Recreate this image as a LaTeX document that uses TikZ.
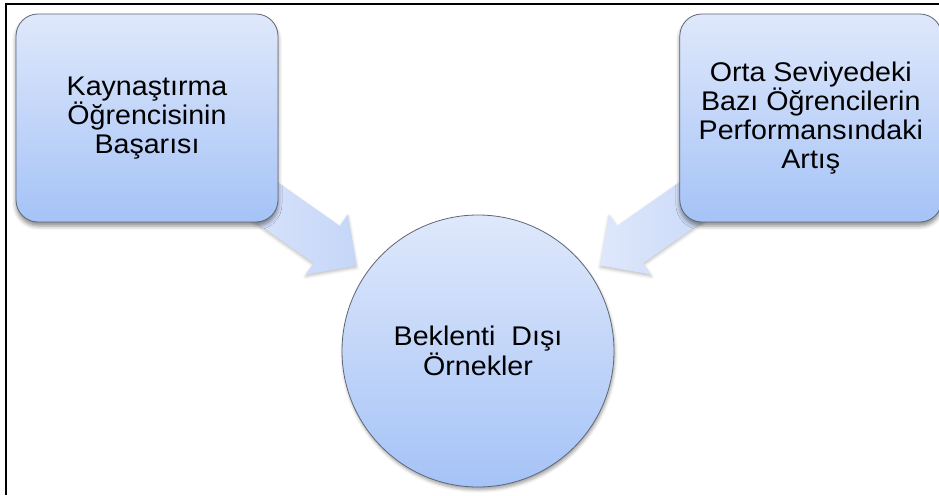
\documentclass[tikz,border=0pt]{standalone}
\usepackage{fontspec}
\setmainfont{Liberation Sans}[FakeStretch=1.06]
\usetikzlibrary{positioning,shapes.arrows,shadows.blur,backgrounds}

\definecolor{paleblue}{RGB}{223,232,251}
\definecolor{deepblue}{RGB}{165,195,247}
\definecolor{arrowtop}{RGB}{222,231,251}
\definecolor{arrowend}{RGB}{197,214,248}
\definecolor{rimgray}{RGB}{96,102,116}

\begin{document}
\begin{tikzpicture}[x=1pt, y=-1pt,
	bluebox/.style={rectangle, rounded corners=22pt, draw=rimgray, line width=0.8pt, top color=paleblue, bottom color=deepblue, minimum width=262pt, minimum height=208pt, align=center, font=\fontsize{27}{29}\selectfont, blur shadow={shadow xshift=0pt, shadow yshift=-4pt, shadow blur radius=4pt, shadow opacity=45}},
	bluecircle/.style={circle, draw=rimgray, line width=0.8pt, top color=paleblue, bottom color=deepblue, minimum size=272pt, inner sep=0pt, align=center, font=\fontsize{27}{26}\selectfont, blur shadow={shadow xshift=1pt, shadow yshift=-3pt, shadow blur radius=3pt, shadow opacity=35}},
	fatarrow/.style={single arrow, single arrow head extend=14pt, inner xsep=0pt, inner ysep=22.5pt, minimum height=160pt, left color=arrowtop, right color=arrowend, sloped, allow upside down, blur shadow={shadow xshift=0pt, shadow yshift=-2pt, shadow blur radius=3pt, shadow opacity=25}},
	]
	\useasboundingbox (0,0) rectangle (939,495);
	%Nodes
	\node[bluebox]    (kb)  at (147,118)      {Kaynaştırma\\Öğrencisinin\\Başarısı};
	\node[bluebox]    (osb) [right=401pt of kb] {Orta Seviyedeki\\Bazı Öğrencilerin\\Performansındaki\\Artış};
	\node[bluecircle] (bd)  at (478,351)      {Beklenti\ \ Dışı\\Örnekler};
	
	%Arrows
	\begin{scope}[on background layer]
		\path (kb.center) -- (bd.center) node[fatarrow, pos=0.408] (ka) {};
		\path (osb.center) -- (bd.center) node[fatarrow, pos=0.408] (oa) {};
	\end{scope}
	
	%Frame
	\draw[line width=1.6pt] (939,4) -- (6,4) -- (6,495);
\end{tikzpicture}
\end{document}
